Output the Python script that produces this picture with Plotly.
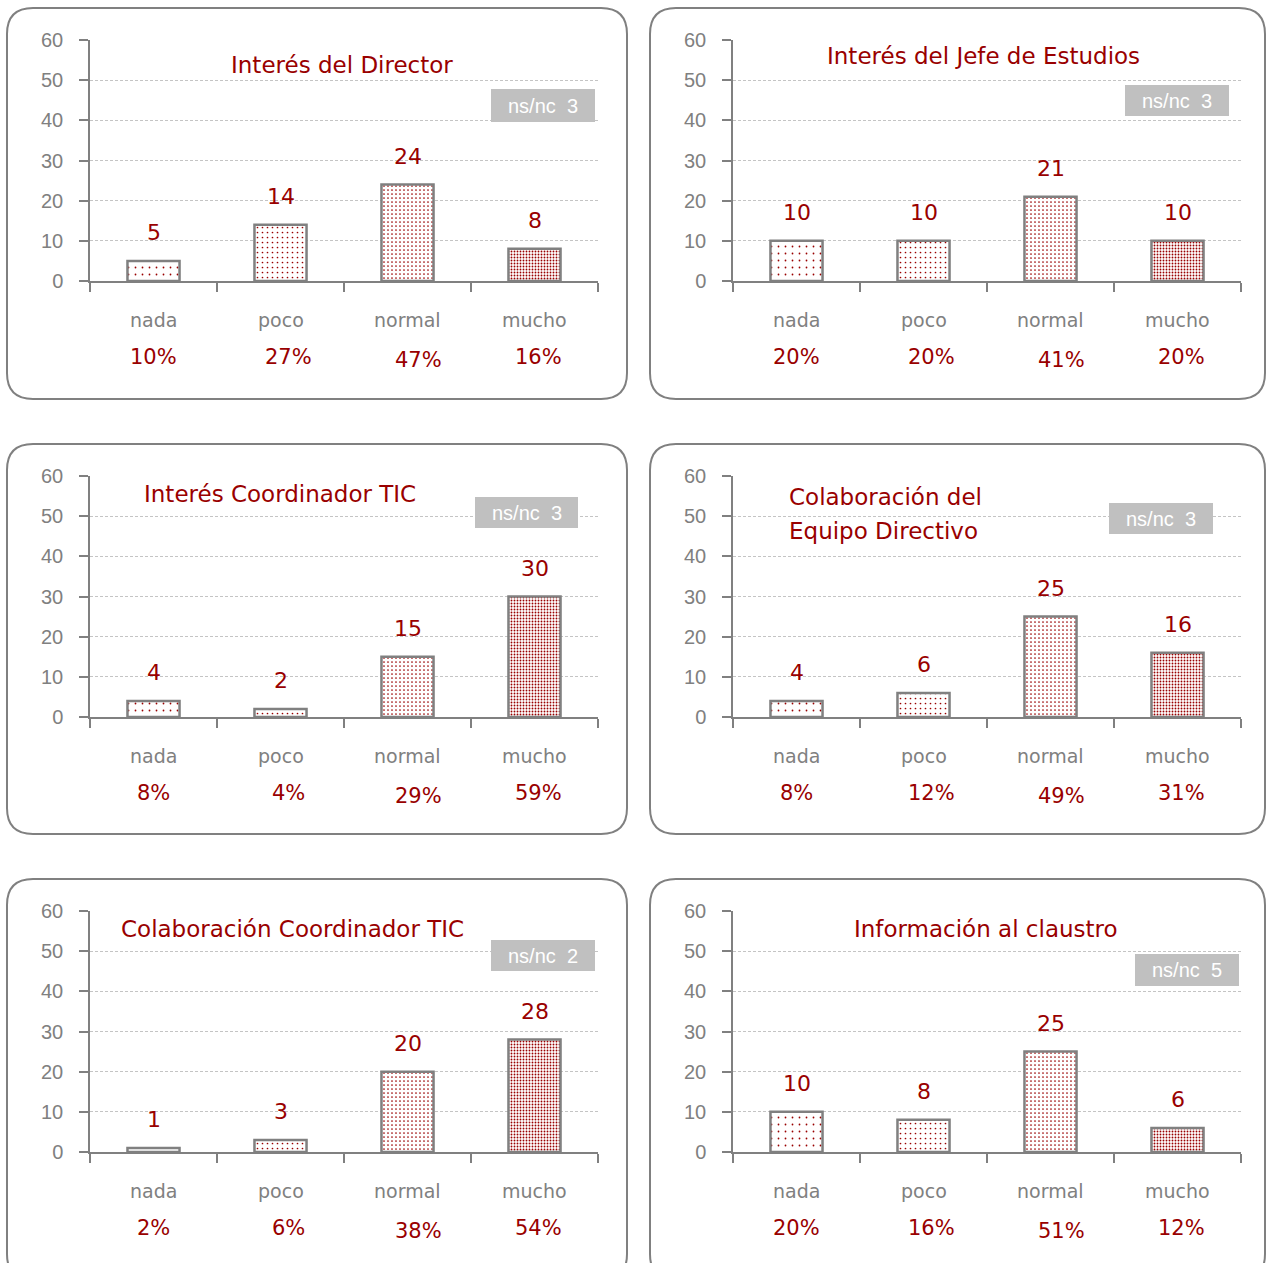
import plotly.graph_objects as go

# ---------------- data ----------------
categories = ["nada", "poco", "normal", "mucho"]
titles = [
    "Interés del Director",
    "Interés del Jefe de Estudios",
    "Interés Coordinador TIC",
    "Colaboración del<br>Equipo Directivo",
    "Colaboración Coordinador TIC",
    "Información al claustro",
]
values_director = [5, 14, 24, 8]
values_jefe = [10, 10, 21, 10]
values_coord_tic = [4, 2, 15, 30]
values_equipo = [4, 6, 25, 16]
values_colab_tic = [1, 3, 20, 28]
values_claustro = [10, 8, 25, 6]
all_values = [values_director, values_jefe, values_coord_tic,
              values_equipo, values_colab_tic, values_claustro]

pct_director = ["10%", "27%", "47%", "16%"]
pct_jefe = ["20%", "20%", "41%", "20%"]
pct_coord_tic = ["8%", "4%", "29%", "59%"]
pct_equipo = ["8%", "12%", "49%", "31%"]
pct_colab_tic = ["2%", "6%", "38%", "54%"]
pct_claustro = ["20%", "16%", "51%", "12%"]
all_pcts = [pct_director, pct_jefe, pct_coord_tic, pct_equipo, pct_colab_tic, pct_claustro]

nsnc = [3, 3, 3, 3, 2, 5]
y_ticks = [0, 10, 20, 30, 40, 50, 60]

# ---------------- layout helpers ----------------
W, H = 1267, 1263
DARK_RED = "#990000"
GREY = "#808080"
FONT = "DejaVu Sans"

def px(x):
    return x / W

def py(y):
    return 1 - y / H

col_x = [(90, 598), (733, 1241)]
row_y = [(40, 281), (476, 717), (911, 1152)]
box_x = [(7, 627), (650, 1265)]
box_y = [(8, 399), (444, 834), (879, 1280)]

# title settings per panel: (x center/left, y of first line, align)
title_pos = [(342, 65, "center"), (983, 56, "center"), (280, 494, "center"),
             (787, 497, "left"), (292, 929, "center"), (986, 929, "center")]
title_line_gap = 34
nsnc_box = [(491, 89, 595, 122), (1125, 85, 1229, 116), (475, 497, 578, 528),
            (1109, 503, 1213, 534), (491, 940, 595, 971), (1135, 954, 1239, 986)]

pct_dx = [0, 8, 11, 4]
pct_dy = [0, 0, 3, 0]

pattern_size = [7, 5, 4, 3]
pattern_solid = [0.05, 0.09, 0.14, 0.3]

fig = go.Figure()
shapes = []
annotations = []

for i in range(6):
    r, c = divmod(i, 2)
    n = i + 1
    xa = "x" if n == 1 else f"x{n}"
    ya = "y" if n == 1 else f"y{n}"
    xkey = "xaxis" if n == 1 else f"xaxis{n}"
    ykey = "yaxis" if n == 1 else f"yaxis{n}"
    x0, x1 = col_x[c]
    y0, y1 = row_y[r]

    fig.add_trace(go.Bar(
        x=categories, y=all_values[i], xaxis=xa, yaxis=ya,
        width=0.41,
        marker=dict(
            color="white",
            line=dict(color=GREY, width=2.5),
            pattern=dict(shape=".", fgcolor=DARK_RED, bgcolor="white",
                         size=pattern_size, solidity=pattern_solid,
                         fgopacity=1),
        ),
        showlegend=False, hoverinfo="x+y",
    ))

    fig.update_layout({
        xkey: dict(domain=[px(x0), px(x1)], anchor=ya, type="category",
                   range=[-0.5, 3.5], showgrid=False, showline=True,
                   linecolor=GREY, linewidth=1.5, ticks="outside",
                   tickson="boundaries", ticklen=9, tickcolor=GREY,
                   tickwidth=1.5, showticklabels=False, fixedrange=True,
                   automargin=False),
        ykey: dict(domain=[py(y1), py(y0)], anchor=xa, range=[0, 60],
                   tickvals=y_ticks, showgrid=True, gridcolor="#c4c4c4",
                   griddash="3px,2px", gridwidth=1, showline=True,
                   linecolor=GREY, linewidth=1.5, ticks="outside",
                   ticklen=9, tickcolor=GREY, tickwidth=1.5,
                   ticklabelstandoff=12, zeroline=False,
                   tickfont=dict(family="Liberation Sans", size=20, color=GREY),
                   fixedrange=True, automargin=False),
    })

    # value labels
    for cat, v in zip(categories, all_values[i]):
        annotations.append(dict(x=cat, y=v, xref=xa, yref=ya, text=str(v),
                                showarrow=False, yanchor="bottom", yshift=14,
                                font=dict(family=FONT, size=22, color=DARK_RED)))
    # category names and percentages
    for k, cat in enumerate(categories):
        annotations.append(dict(x=cat, y=py(y1 + 39), xref=xa, yref="paper",
                                text=cat, showarrow=False, yanchor="middle",
                                font=dict(family=FONT, size=19, color=GREY)))
        annotations.append(dict(x=cat, y=py(y1 + 76 + pct_dy[k]), xref=xa, yref="paper",
                                text=all_pcts[i][k], showarrow=False, yanchor="middle",
                                xshift=pct_dx[k],
                                font=dict(family=FONT, size=21, color=DARK_RED)))

    # title (each line placed separately)
    tx, ty, al = title_pos[i]
    for j, line in enumerate(titles[i].split("<br>")):
        annotations.append(dict(x=px(tx), y=py(ty + j * title_line_gap),
                                xref="paper", yref="paper",
                                text=line, showarrow=False,
                                xanchor="left" if al == "left" else "center",
                                yanchor="middle", align=al,
                                font=dict(family=FONT, size=23, color=DARK_RED)))

    # ns/nc box
    bx0, by0, bx1, by1 = nsnc_box[i]
    shapes.append(dict(type="rect", xref="paper", yref="paper",
                       x0=px(bx0), x1=px(bx1), y0=py(by1), y1=py(by0),
                       fillcolor="#c0c0c0", line=dict(width=0), layer="above"))
    annotations.append(dict(x=px((bx0 + bx1) / 2), y=py((by0 + by1) / 2),
                            xref="paper", yref="paper",
                            text=f"ns/nc&nbsp;&nbsp;{nsnc[i]}", showarrow=False,
                            xanchor="center", yanchor="middle",
                            font=dict(family="Liberation Sans", size=20, color="white")))

    # rounded panel border
    a0, a1 = box_x[c]
    b0, b1 = box_y[r]
    rad = 26
    pts = [
        ("M", [(a0 + rad, b0)]),
        ("L", [(a1 - rad, b0)]),
        ("Q", [(a1, b0), (a1, b0 + rad)]),
        ("L", [(a1, b1 - rad)]),
        ("Q", [(a1, b1), (a1 - rad, b1)]),
        ("L", [(a0 + rad, b1)]),
        ("Q", [(a0, b1), (a0, b1 - rad)]),
        ("L", [(a0, b0 + rad)]),
        ("Q", [(a0, b0), (a0 + rad, b0)]),
    ]
    path = " ".join(cmd + " " + " ".join(f"{px(x):.5f},{py(y):.5f}" for x, y in p)
                    for cmd, p in pts) + " Z"
    shapes.append(dict(type="path", path=path, xref="paper", yref="paper",
                       line=dict(color=GREY, width=2), fillcolor="rgba(0,0,0,0)",
                       layer="below"))

fig.update_layout(
    width=W, height=H,
    margin=dict(l=0, r=0, t=0, b=0, autoexpand=False),
    paper_bgcolor="white", plot_bgcolor="rgba(0,0,0,0)",
    shapes=shapes, annotations=annotations,
)

fig.write_html("out.html", config={"displayModeBar": False},
               post_script="document.body.style.margin='0';")
